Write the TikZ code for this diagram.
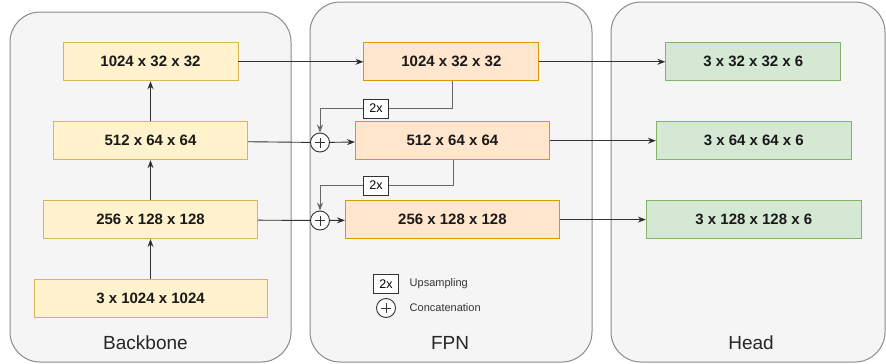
\documentclass[tikz,border=0pt]{standalone}
\usepackage{fontspec}
\setmainfont{Liberation Sans}
\usetikzlibrary{positioning,arrows.meta}
\definecolor{panelfill}{HTML}{F5F5F5}
\definecolor{panelline}{HTML}{8A8A8A}
\definecolor{bbfill}{HTML}{FFF2CC}
\definecolor{bbline}{HTML}{D6B656}
\definecolor{fpnfill}{HTML}{FFE6CC}
\definecolor{fpnline}{HTML}{D79B00}
\definecolor{headfill}{HTML}{D5E8D4}
\definecolor{headline}{HTML}{82B366}
\definecolor{wire}{HTML}{333333}
\definecolor{upwire}{HTML}{666666}
\tikzstyle{panel} = [rectangle,
                    rounded corners=30pt,
                    draw=panelline,
                    fill=panelfill,
                    line width=1pt,
                    inner sep=0pt]
\tikzstyle{block} = [rectangle,
                    minimum height=38pt,
                    inner sep=0pt,
                    line width=0.9pt,
                    text=black!90,
                    font=\fontsize{15}{18}\selectfont\bfseries]
\tikzstyle{backbone} = [block, draw=bbline, fill=bbfill]
\tikzstyle{fpn} = [block, draw=fpnline, fill=fpnfill]
\tikzstyle{head} = [block, draw=headline, fill=headfill]
\tikzstyle{upsample} = [rectangle,
                       draw=black!80,
                       fill=white,
                       minimum width=25pt,
                       minimum height=19pt,
                       inner sep=0pt,
                       font=\fontsize{12.5}{14}\selectfont]
\tikzstyle{concat} = [circle,
                     draw=black!80,
                     fill=white,
                     minimum size=19pt,
                     inner sep=0pt,
                     path picture={
                       \draw[black!80, line width=0.9pt]
                         ([xshift=-5pt]path picture bounding box.center) -- ([xshift=5pt]path picture bounding box.center)
                         ([yshift=-5pt]path picture bounding box.center) -- ([yshift=5pt]path picture bounding box.center);
                     }]
\tikzstyle{title} = [font=\fontsize{19}{22}\selectfont, text=black!85]
\tikzstyle{legend} = [font=\fontsize{11}{13}\selectfont, text=black!80]
\tikzstyle{flow} = [x=1pt,
                   y=-1pt,
                   node distance=40pt,
                   >={Stealth[length=8pt,width=6pt]},
                   line width=0.9pt]

\begin{document}
\begin{tikzpicture}[flow]
    \useasboundingbox (0,0) rectangle (886,364);
    % panels
    \node (bbpanel) [panel, minimum width=281pt, minimum height=350pt] at (150.5,187) {};
    \node (fpnpanel) [panel, minimum width=282pt, minimum height=360pt] at (451,182) {};
    \node (headpanel) [panel, minimum width=274pt, minimum height=360pt] at (748,182) {};
    \node (bbname) [title] at (145.5,343) {Backbone};
    \node (fpnname) [title] at (450,343) {FPN};
    \node (headname) [title] at (751,343) {Head};
    % backbone
    \node (b4) [backbone, minimum width=233pt] at (150.5,298.5) {3 x 1024 x 1024};
    \node (b3) [above =of b4, backbone, minimum width=214pt] {256 x 128 x 128};
    \node (b2) [above =of b3, backbone, minimum width=194pt] {512 x 64 x 64};
    \node (b1) [above =of b2, backbone, minimum width=175pt] {1024 x 32 x 32};
    % fpn
    \node (f1) [right =125pt of b1, fpn, minimum width=175pt] {1024 x 32 x 32};
    \node (f2) [right =107pt of b2, fpn, minimum width=194pt] {512 x 64 x 64};
    \node (f3) [right =87pt of b3, fpn, minimum width=214pt] {256 x 128 x 128};
    \node (c2) [concat] at (320,142.5) {};
    \node (c3) [concat] at (320,220.5) {};
    \node (u2) [upsample] at (376,108.5) {2x};
    \node (u3) [upsample] at (376,185.5) {2x};
    % head
    \node (h1) [right =126pt of f1, head, minimum width=175pt] {3 x 32 x 32 x 6};
    \node (h2) [right =106pt of f2, head, minimum width=195pt] {3 x 64 x 64 x 6};
    \node (h3) [right =86pt of f3, head, minimum width=215pt] {3 x 128 x 128 x 6};
    % legend
    \node (u0) [upsample] at (386,284) {2x};
    \node (c0) [concat] at (386,308) {};
    \node (u0text) [right =7pt of u0, legend] {Upsampling};
    \node (c0text) [right =10pt of c0, legend] {Concatenation};
    \path[draw=wire, ->]
      (b4) edge (b3)
      (b3) edge (b2)
      (b2) edge (b1)
      (b1) edge (f1)
      (c2) edge (f2)
      (c3) edge (f3)
      (f1) edge (h1)
      (f2) edge (h2)
      (f3) edge (h3);
    \draw[wire] (b2) -- (c2);
    \draw[wire] (b3) -- (c3);
    \draw[upwire] ([xshift=1pt]f1.south) |- (u2);
    \draw[upwire, ->] (u2) -| (c2);
    \draw[upwire] ([xshift=1pt]f2.south) |- (u3);
    \draw[upwire, ->] (u3) -| (c3);
  \end{tikzpicture}
\end{document}
